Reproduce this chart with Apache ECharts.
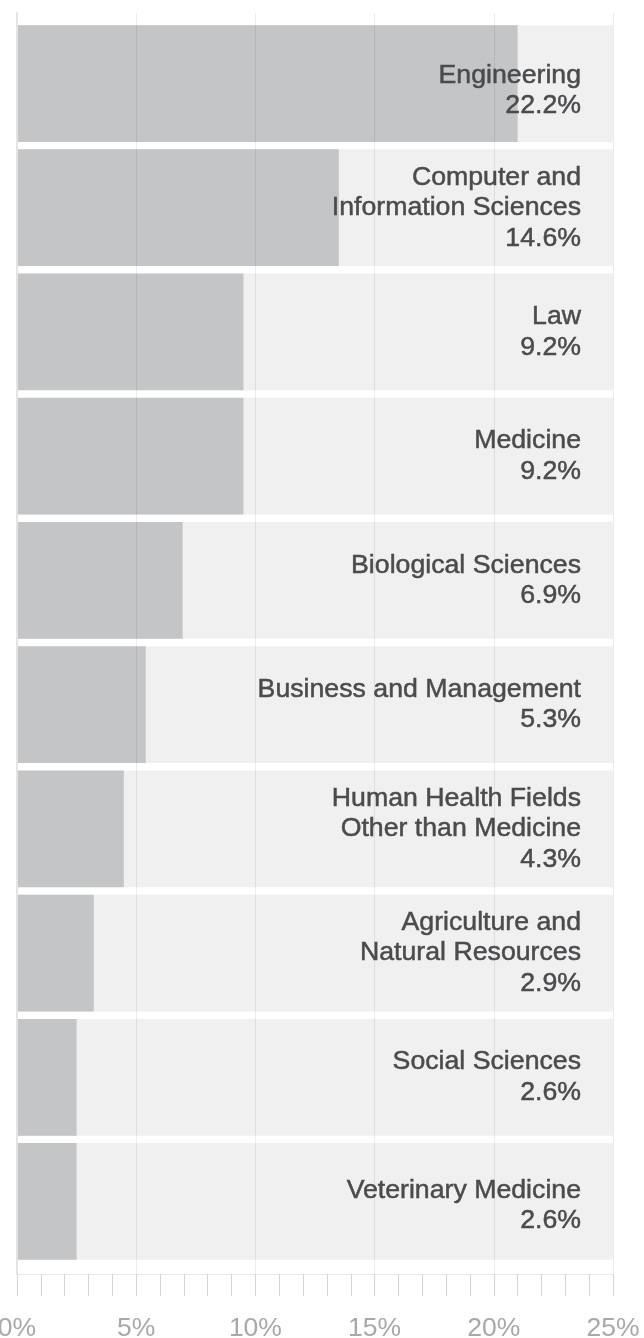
<!DOCTYPE html>
<html>
<head>
<meta charset="utf-8">
<script src="https://cdn.jsdelivr.net/npm/echarts@6/dist/echarts.min.js"></script>
<style>
html,body{margin:0;padding:0;background:#fff;}
#chart{width:644px;height:1338px;}
</style>
</head>
<body>
<div id="chart"></div>
<script>
// Categories (top to bottom)
const categories = [
  'Engineering',
  'Computer and\nInformation Sciences',
  'Law',
  'Medicine',
  'Biological Sciences',
  'Business and Management',
  'Human Health Fields\nOther than Medicine',
  'Agriculture and\nNatural Resources',
  'Social Sciences',
  'Veterinary Medicine'
];
// Bar lengths as drawn against the axis (%)
const barValues = [21.0, 13.5, 9.5, 9.5, 6.95, 5.4, 4.48, 3.22, 2.5, 2.5];
// Printed value labels
const valueLabels = ['22.2%', '14.6%', '9.2%', '9.2%', '6.9%', '5.3%', '4.3%', '2.9%', '2.6%', '2.6%'];
// Axis
const axisMin = 0;
const axisMax = 25;
const axisInterval = 5;

const trackValues = categories.map(() => axisMax);

const chart = echarts.init(document.getElementById('chart'), null, {renderer: 'canvas'});
const FONT = '"Liberation Sans", Arial, Helvetica, sans-serif';

// small vertical nudges seen in the reference labels
const labelNudge = {0: 7, 9: 4};
const labelData = trackValues.map((v, i) => labelNudge[i] ? {value: v, label: {offset: [0, labelNudge[i]]}} : v);

chart.setOption({
  animation: false,
  backgroundColor: '#ffffff',
  grid: [
    {left: 17, right: 31, top: 13, bottom: 64, containLabel: false, outerBoundsMode: 'none'},
    {left: 17, right: 31, top: 21.4, bottom: 74.4, containLabel: false, outerBoundsMode: 'none'}
  ],
  xAxis: [
    {
      gridIndex: 0, type: 'value', min: axisMin, max: axisMax, interval: axisInterval,
      z: 10,
      axisLine: {show: true, lineStyle: {color: '#ebe8e8', width: 1}},
      axisTick: {show: true, length: 22, lineStyle: {color: '#d9d3d3', width: 1}},
      minorTick: {show: true, splitNumber: 5, length: 22, lineStyle: {color: '#d9d3d3', width: 1}},
      splitLine: {show: true, lineStyle: {color: 'rgba(60,40,40,0.09)', width: 1}},
      axisLabel: {
        show: true, margin: 41, fontSize: 26.5, color: '#a8a8a8', fontFamily: FONT,
        hideOverlap: false,
        formatter: v => v + '%'
      }
    },
    {
      gridIndex: 1, type: 'value', min: axisMin, max: axisMax, show: false
    }
  ],
  yAxis: [
    {
      gridIndex: 0, type: 'value', min: 0, max: 1, z: 10,
      axisLine: {show: true, onZero: false, lineStyle: {color: '#e8e3e3', width: 2}},
      axisTick: {show: false}, axisLabel: {show: false}, splitLine: {show: false}
    },
    {
      gridIndex: 1, type: 'category', data: categories, inverse: true, show: false
    }
  ],
  series: [
    {
      type: 'bar', xAxisIndex: 1, yAxisIndex: 1,
      data: trackValues,
      barWidth: '94%',
      itemStyle: {color: '#f0f0f0'},
      silent: true,
      z: 2
    },
    {
      type: 'bar', xAxisIndex: 1, yAxisIndex: 1,
      data: barValues,
      barWidth: '94%',
      barGap: '-100%',
      itemStyle: {color: '#c4c5c7'},
      z: 3
    },
    {
      type: 'bar', xAxisIndex: 1, yAxisIndex: 1,
      data: labelData,
      barWidth: '94%',
      barGap: '-100%',
      itemStyle: {color: 'rgba(0,0,0,0)'},
      silent: true,
      z: 4,
      label: {
        show: true, position: 'insideRight', distance: 32,
        fontSize: 26.7, lineHeight: 30.5, color: '#4a4b4d', fontFamily: FONT,
        textBorderColor: '#4a4b4d', textBorderWidth: 0.5,
        align: 'right',
        formatter: p => categories[p.dataIndex] + '\n' + valueLabels[p.dataIndex]
      }
    }
  ]
});
</script>
</body>
</html>
